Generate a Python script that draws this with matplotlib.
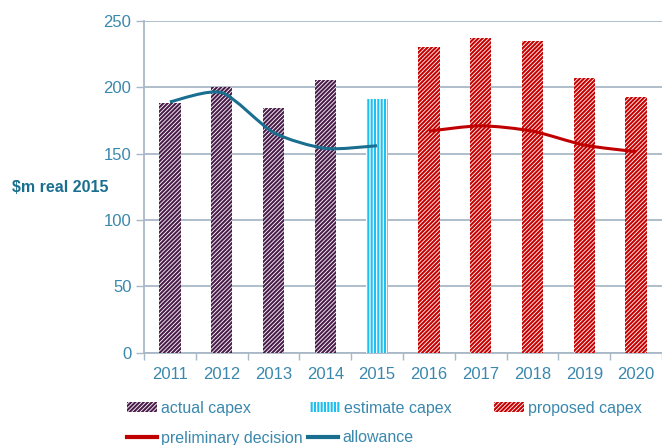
import numpy as np
import matplotlib.pyplot as plt
from matplotlib.patches import Patch
from matplotlib.lines import Line2D
from matplotlib.path import Path
from matplotlib.patches import PathPatch

plt.rcParams['font.family'] = ['Liberation Sans', 'DejaVu Sans']
plt.rcParams['hatch.linewidth'] = 1.5

years = ['2011', '2012', '2013', '2014', '2015', '2016', '2017', '2018', '2019', '2020']
actual_capex = [188, 200, 184.5, 205.5]          # 2011-2014
estimate_capex = [191]                           # 2015
proposed_capex = [230.5, 237, 234.5, 207, 192.5]  # 2016-2020
allowance = [189, 196, 166, 154, 156]            # 2011-2015
preliminary = [167, 171, 167, 156.5, 151.5]      # 2016-2020

TXT = '#3a88ad'
GRID = '#a9b8c6'
PURPLE = '#4a1c4a'
CYAN = '#1fbff0'
RED = '#c80000'
TEAL = '#1a6f90'
PREL = '#c00000'


def smooth_line(ax, xs, ys, color, lw=2.2):
    # Excel-style smoothed line (Catmull-Rom -> cubic bezier)
    xs = np.asarray(xs, float)
    ys = np.asarray(ys, float)
    pts = np.column_stack([xs, ys])
    verts = [pts[0]]
    codes = [Path.MOVETO]
    n = len(pts)
    k = 1.0 / 8.0
    for i in range(n - 1):
        p0 = pts[i - 1] if i > 0 else pts[i]
        p1 = pts[i]
        p2 = pts[i + 1]
        p3 = pts[i + 2] if i + 2 < n else pts[i + 1]
        c1 = p1 + (p2 - p0) * k
        c2 = p2 - (p3 - p1) * k
        verts += [c1, c2, p2]
        codes += [Path.CURVE4] * 3
    ax.add_patch(PathPatch(Path(verts, codes), fill=False, edgecolor=color,
                           lw=lw, capstyle='butt', joinstyle='round', zorder=5))


fig = plt.figure(figsize=(6.62, 4.45), dpi=100)
ax = fig.add_axes([0.2175, 0.207, 0.7825, 0.746])

x = np.arange(len(years))
w = 0.41
ax.bar(x[:4], actual_capex, w, facecolor='white', edgecolor=PURPLE, lw=0,
       hatch='////////', zorder=3)
ax.bar(x[4:5], estimate_capex, w, facecolor='white', edgecolor=CYAN, lw=0,
       hatch='|||||', zorder=3)
ax.bar(x[5:], proposed_capex, w, facecolor='white', edgecolor=RED, lw=0,
       hatch='////////', zorder=3)

smooth_line(ax, x[:5], allowance, TEAL)
smooth_line(ax, x[5:], preliminary, PREL)

ax.set_xlim(-0.5, len(years) - 0.5)
ax.set_ylim(0, 250)
ax.set_yticks([0, 50, 100, 150, 200, 250])
ax.set_xticks(x)
ax.set_xticklabels(years)
ax.set_xticks(np.arange(-0.5, len(years) - 0.4, 1), minor=True)
ax.tick_params(axis='x', which='major', length=0, pad=10, labelsize=12, labelcolor=TXT)
ax.tick_params(axis='x', which='minor', length=5, width=1, color=GRID, direction='out')
ax.tick_params(axis='y', length=6, width=1, color=GRID, pad=3, labelsize=12, labelcolor=TXT)

ax.grid(axis='y', color=GRID, lw=1.3, zorder=0)
ax.set_axisbelow(True)
for s in ['top', 'right']:
    ax.spines[s].set_visible(False)
for s in ['left', 'bottom']:
    ax.spines[s].set_color(GRID)
    ax.spines[s].set_linewidth(1.3)

fig.text(0.018, 0.578, '$m real 2015', color=TEAL, fontsize=11.5, fontweight='bold',
         va='center', ha='left')

# legend entries placed like Excel's flow layout: (handle, label, x px, y px)
entries = [
    (Patch(facecolor='white', edgecolor=PURPLE, lw=0, hatch='////////'), 'actual capex', 127, 408),
    (Patch(facecolor='white', edgecolor=CYAN, lw=0, hatch='|||||'), 'estimate capex', 310, 408),
    (Patch(facecolor='white', edgecolor=RED, lw=0, hatch='////////'), 'proposed capex', 494, 408),
    (Line2D([0], [0], color=PREL, lw=3), 'preliminary decision', 127, 438),
    (Line2D([0], [0], color=TEAL, lw=3), 'allowance', 308, 438),
]
W, H = 662, 445
for h, lab, px, py in entries:
    leg = fig.legend(handles=[h], labels=[lab], loc='center left',
                     bbox_to_anchor=(px / W, 1 - py / H), frameon=False,
                     fontsize=11.5, handlelength=1.9, handleheight=0.6,
                     handletextpad=0.25, borderaxespad=0, borderpad=0)
    for t in leg.get_texts():
        t.set_color(TXT)

fig.savefig('out.png', dpi=100)
